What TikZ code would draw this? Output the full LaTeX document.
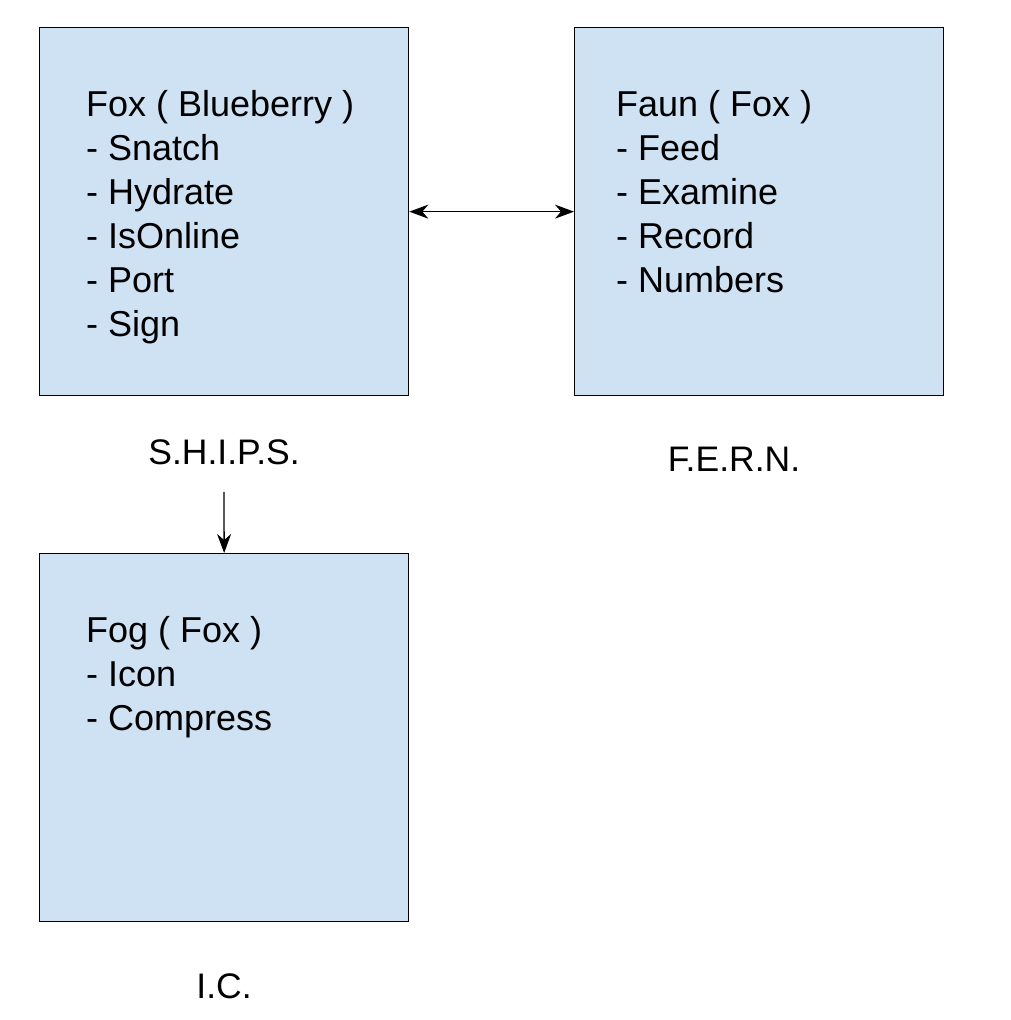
\documentclass[tikz,border=0pt]{standalone}
\usepackage{fontspec}
\setmainfont{Liberation Sans}
\usetikzlibrary{arrows.meta,positioning}
\definecolor{boxblue}{HTML}{CFE2F3}
\tikzset{
    headtip/.tip={Stealth[length=19pt,width=14pt,inset=6pt]},
    classbox/.style={draw=black, line width=1.3pt, fill=boxblue, minimum width=369pt, minimum height=368pt, inner sep=0pt, anchor=north west},
    members/.style={anchor=north west, inner sep=0pt, align=left, font=\fontsize{36}{44}\selectfont},
    tag/.style={inner sep=0pt, font=\fontsize{35.5}{44}\selectfont},
    link/.style={line width=1.3pt}
}
\begin{document}
\begin{tikzpicture}[x=1pt,y=-1pt]
    \useasboundingbox[fill=white] (0,0) rectangle (1010,1020);

    \node[classbox] (fox) at (39,27) {};
    \node[classbox] (faun) at (574,27) {};
    \node[classbox] (fog) at (39,553) {};

    \node[members] (foxtext) at (86,90) {Fox ( Blueberry )\\- Snatch\\- Hydrate\\- IsOnline\\- Port\\- Sign};
    \node[members] (fauntext) at (616,90) {Faun ( Fox )\\- Feed\\- Examine\\- Record\\- Numbers};
    \node[members] (fogtext) at (86,616) {Fog ( Fox )\\- Icon\\- Compress};

    \node[tag] (ships) at (224,452) {S.H.I.P.S.};
    \node[tag] (fern) at (734,459) {F.E.R.N.};
    \node[tag] (ic) at (224,986) {I.C.};

    \draw[link, headtip-headtip] (fox.east) -- (faun.west);
    \draw[link, -headtip] ([yshift=-27pt]ships.south) -- (fog.north);
\end{tikzpicture}
\end{document}
